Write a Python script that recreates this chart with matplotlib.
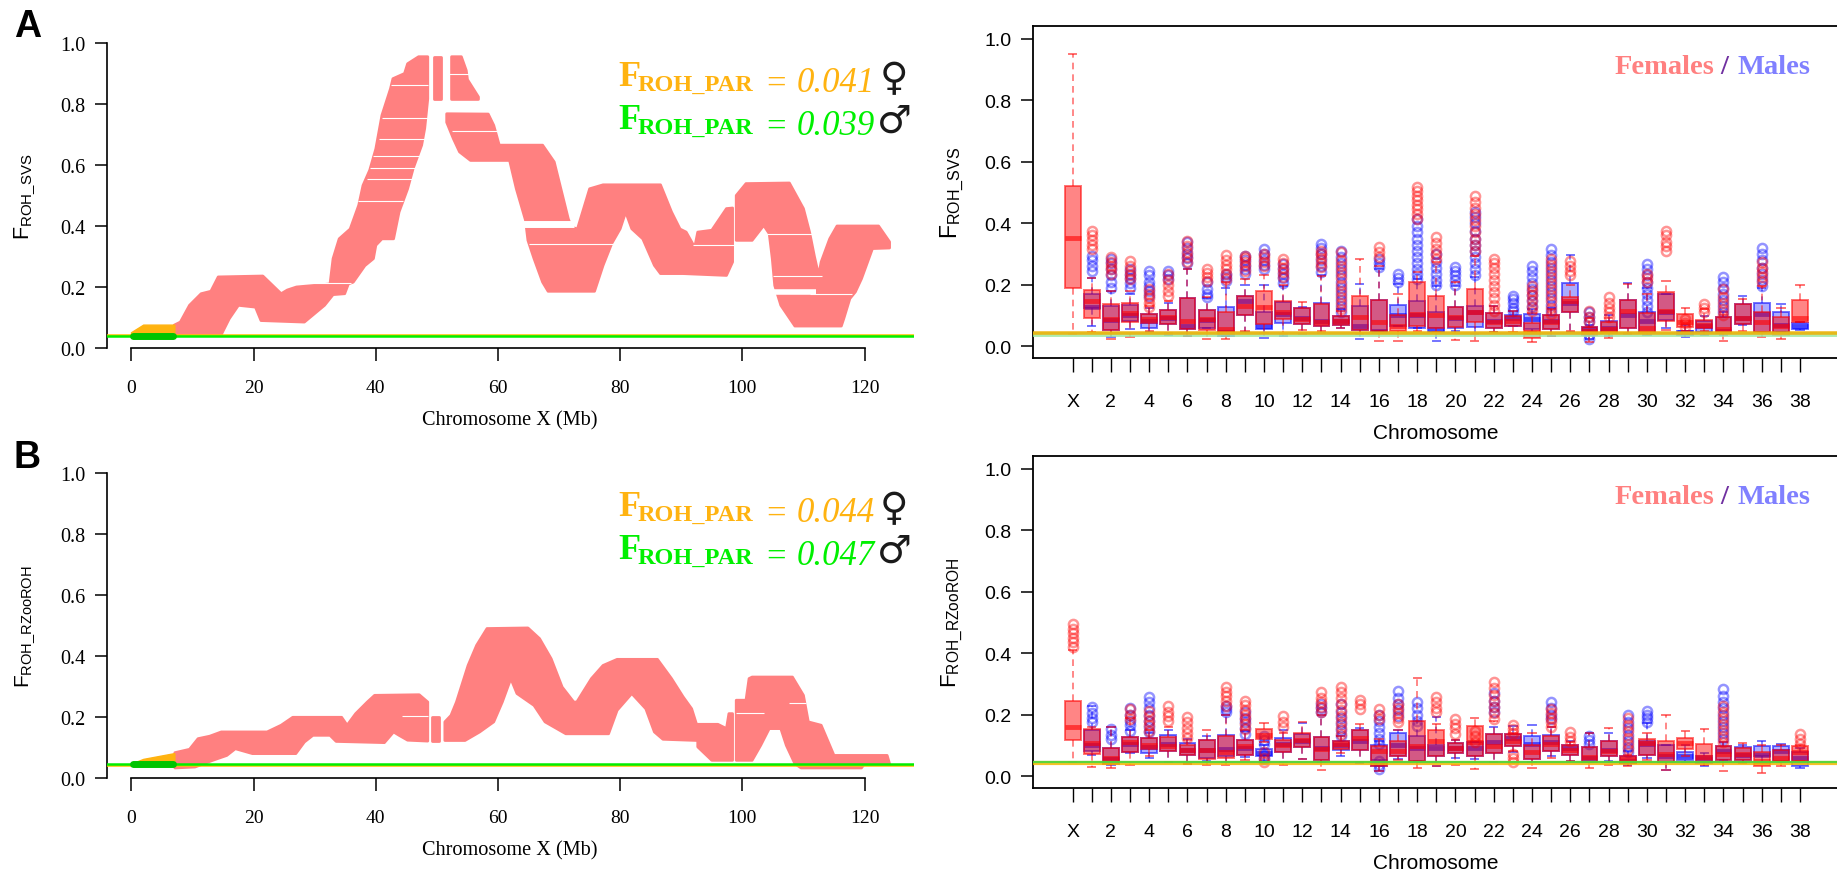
import matplotlib
matplotlib.use('Agg')
import matplotlib.pyplot as plt
import numpy as np

W, H = 1837, 879
PINK = '#FF8080'
SERIF = 'Liberation Serif'
SANS = 'Liberation Sans'
plt.rcParams['mathtext.fontset'] = 'custom'
plt.rcParams['mathtext.rm'] = SANS

nan = np.nan

# ---- left panels: silhouettes of the FROH band (Mb, top / bottom edge)
A_seg1_tx = [7, 8, 9.5, 11.4, 13, 14.2, 21.5, 24.5, 25.5, 27, 32.5, 33, 34, 35.8, 37.2, 37.9, 39, 40, 41, 42.4, 42.8, 44.7, 45.2, 47, 48.5]
A_seg1_ty = [.075, .085, .14, .178, .186, .233, .236, .178, .19, .2, .21, .293, .358, .39, .468, .533, .583, .653, .763, .85, .883, .9, .932, .955, .955]
A_seg1_bx = [7, 14.7, 16, 17.5, 20.3, 21.2, 28.3, 31.6, 33, 34.9, 35.5, 36.3, 38.2, 39.6, 40, 41, 42.9, 43.8, 45.2, 46.1, 47.5, 48, 48.5]
A_seg1_by = [.04, .044, .096, .14, .134, .09, .085, .14, .175, .178, .21, .216, .27, .293, .337, .358, .358, .446, .522, .588, .665, .72, .817]
A_seg2_tx = [49.6, 50.6]
A_seg2_ty = [.955, .955]
A_seg2_bx = [49.6, 50.6]
A_seg2_by = [.815, .815]
A_seg3_tx = [52.4, 54, 54.8, 55, 56.8]
A_seg3_ty = [.955, .955, .91, .88, .823]
A_seg3_bx = [52.4, 56.8]
A_seg3_by = [.815, .815]
A_seg4_tx = [51.6, 58.4, 59.3, 60.2, 67.3, 69.2, 71.5, 72, 73, 75, 77.2, 86.6, 88.4, 89.8, 90.8, 92.2, 92.7, 95, 97.4, 98.4]
A_seg4_ty = [.768, .767, .73, .665, .665, .61, .424, .397, .39, .522, .535, .535, .446, .39, .38, .33, .38, .386, .457, .459]
A_seg4_bx = [51.6, 52.7, 53.7, 55.5, 61.9, 63, 64.5, 64.9, 65.9, 67.3, 68.2, 75.8, 77.2, 78.6, 80, 80.9, 81.9, 83.7, 85.6, 86.6, 90.3, 97.4, 98.4]
A_seg4_by = [.74, .686, .643, .615, .615, .522, .419, .353, .293, .216, .186, .186, .271, .342, .391, .446, .391, .358, .271, .244, .244, .238, .282]
A_seg5_tx = [99, 100.6, 107.7, 110, 111, 111.8, 112.5, 112.9, 114.3, 115.5, 122.3, 124.1]
A_seg5_ty = [.5, .539, .541, .457, .38, .3, .238, .282, .358, .4, .4, .348]
A_seg5_bx = [99, 101.6, 103.5, 104.4, 104.9, 105.3, 106.3, 108.6, 116.2, 116.6, 117.6, 118.5, 119.5, 120.9, 121.3, 124.1]
A_seg5_by = [.353, .353, .402, .375, .293, .205, .14, .072, .072, .096, .162, .184, .227, .304, .326, .328]

# white stripes across the band: value, from Mb, to Mb, thickness in pt
A_gap_y = [.863, .755, .686, .628, .59, .553, .481, .214, .897, .711, .408, .342, .338, .375, .236, .185, .178]
A_gap_x0 = [42.5, 41, 40.5, 39.5, 39, 38.5, 37, 28.5, 52, 52.5, 63.5, 65, 92, 104, 105, 105, 111]
A_gap_x1 = [48.6, 48.6, 48, 47.5, 46.8, 46, 44.5, 36, 55.5, 60, 72.5, 79, 98.6, 111.5, 113, 112, 118]
A_gap_w = [.8, .8, .8, .8, .8, .8, .8, .8, .8, .8, 5, .8, .8, .8, .8, 4, .8]

B_seg1_tx = [7.1, 9.5, 10.9, 12.8, 14.7, 22.2, 24.5, 26.4, 34.4, 35.3, 36.7, 38.6, 39.8, 47.1, 48.5, 48.5]
B_seg1_ty = [.083, .094, .129, .137, .151, .151, .173, .199, .199, .173, .211, .249, .271, .273, .249, .123]
B_seg1_bx = [7.1, 10.4, 13.3, 15.6, 17, 19.8, 26.9, 28.3, 29.7, 32.5, 33.5, 41.4, 42.9, 43.8, 45.2, 48.5]
B_seg1_by = [.033, .036, .058, .074, .096, .08, .08, .118, .14, .14, .12, .116, .151, .14, .124, .121]
B_seg2_tx = [49.2, 50.4]
B_seg2_ty = [.2, .2]
B_seg2_bx = [49.2, 50.4]
B_seg2_by = [.12, .12]
B_seg3_tx = [51.3, 52.3, 53.2, 55.1, 56.5, 58.2, 64.9, 66.8, 68.7, 70.5, 72.4, 72.9, 75.3, 77.2, 79.5, 86.1, 88.4, 90.3, 91.7, 92.5, 96, 97.4, 97.8, 98.4]
B_seg3_ty = [.184, .205, .249, .369, .435, .49, .492, .457, .391, .298, .249, .249, .326, .369, .389, .389, .326, .266, .227, .176, .176, .162, .211, .211]
B_seg3_bx = [51.3, 54.6, 57, 59.3, 60.7, 62.1, 63.1, 65.9, 67.7, 71.1, 78.1, 79.5, 81.9, 84.2, 85.6, 87, 92.7, 92.7, 95, 98.4]
B_seg3_by = [.123, .123, .151, .184, .249, .326, .277, .238, .184, .145, .145, .222, .277, .227, .151, .127, .123, .102, .058, .058]
B_seg4_tx = [99, 100.6, 101.1, 101.6, 108.2, 110, 110.8, 112.9, 114.3, 115, 123.7, 124.1]
B_seg4_ty = [.255, .255, .326, .331, .331, .271, .184, .173, .107, .074, .074, .047]
B_seg4_bx = [99, 101.6, 103, 104.4, 106.3, 107.2, 108.6, 109.6, 119.5, 120, 124.1]
B_seg4_by = [.058, .058, .107, .162, .162, .107, .047, .033, .033, .047, .047]

B_gap_y = [.203, .213, .245]
B_gap_x0 = [44.3, 99, 107.7]
B_gap_x1 = [48.6, 103.5, 110.5]
B_gap_w = [.8, .8, .8]

# PAR region patches (Mb, FROH)
A_par_x = [0, 2, 7.1]
A_par_top = [.05, .075, .075]
B_par_x = [0, 2, 7.1]
B_par_top = [.045, .061, .08]
par_end = 7.1

A_left_f, A_left_m = 0.041, 0.039
B_left_f, B_left_m = 0.044, 0.047

# ---- right panels: box statistics per chromosome, X first then 1..38
chrom_labels = ['X', '', '2', '', '4', '', '6', '', '8', '', '10', '', '12', '', '14', '', '16', '', '18', '', '20', '', '22', '', '24', '', '26', '', '28', '', '30', '', '32', '', '34', '', '36', '', '38']

A_F_q1 = [.188, .091, .053, .077, .075, .072, .055, .052, .039, .102, .072, .088, .072, .066, .068, .053, .05, .05, .066, .06, .063, .077, .058, .066, .026, .055, .112, .036, .041, .06, .045, .083, .063, .059, .042, .072, .045, .037, .077]
A_F_q3 = [.52, .183, .136, .139, .104, .117, .155, .118, .11, .162, .18, .145, .123, .137, .097, .164, .151, .1, .207, .162, .128, .186, .106, .099, .075, .1, .16, .063, .077, .15, .106, .175, .104, .086, .093, .137, .11, .093, .151]
A_F_med = [.353, .147, .088, .107, .088, .093, .083, .088, .055, .131, .126, .11, .088, .077, .083, .093, .079, .066, .104, .10, .093, .112, .077, .083, .045, .077, .148, .05, .055, .115, .06, .113, .077, .07, .055, .09, .077, .066, .09]
A_F_lo = [.039, .046, .023, .03, .05, .042, .034, .023, .023, .05, .042, .039, .053, .05, .06, .039, .015, .017, .05, .045, .02, .017, .045, .045, .012, .034, .05, .012, .026, .042, .039, .052, .05, .05, .015, .048, .028, .023, .077]
A_F_hi = [.95, .22, .18, .18, .13, .145, .25, .16, .21, .218, .23, .2, .144, .229, .115, .283, .262, .17, .24, .272, .207, .294, .13, .115, .106, .12, .2, .09, .09, .202, .17, .213, .123, .12, .1, .153, .197, .125, .199]
A_F_out = [[], [.316, .33, .345, .36, .376], [.235, .25, .262, .275, .289], [.218, .23, .245, .26, .278], [.126, .14, .155, .17, .186],
           [.164, .18, .2, .215, .235], [.273, .29, .305, .325, .343], [.213, .225, .238, .25], [.218, .235, .25, .265, .28, .296], [.245, .26, .275, .285, .294],
           [.262, .275, .29, .3], [.224, .24, .255, .27, .283], [], [.256, .27, .285, .3, .31], [.12, .14, .16, .18, .2, .22, .24, .26, .28, .305],
           [], [.289, .305, .321], [], [.413, .43, .445, .46, .475, .49, .505, .517], [.283, .3, .315, .335, .354],
           [], [.31, .33, .35, .37, .39, .41, .43, .45, .47, .49], [.115, .135, .155, .175, .195, .215, .235, .255, .27, .283], [], [.115, .13, .15, .165, .18, .197],
           [.105, .125, .145, .165, .185, .205, .225, .245, .265, .283], [.23, .245, .26, .278], [.077, .095, .115], [.093, .11, .125, .14, .158], [],
           [.207, .22, .235], [.31, .325, .34, .36, .376], [.061, .075, .088], [.11, .125, .137], [.1, .12, .14, .16, .186],
           [], [.207, .225, .24, .255, .273], [], []]

A_M_q1 = [nan, .125, .052, .08, .059, .072, .055, .06, .034, .102, .055, .074, .072, .066, .068, .053, .05, .066, .06, .047, .06, .063, .058, .066, .055, .055, .112, .038, .041, .06, .042, .085, .037, .047, .042, .072, .047, .045, .055]
A_M_q3 = [nan, .17, .13, .135, .104, .117, .155, .118, .128, .164, .11, .142, .123, .14, .097, .13, .15, .134, .145, .11, .128, .13, .106, .102, .105, .102, .205, .063, .083, .15, .11, .17, .05, .08, .093, .137, .14, .112, .074]
A_M_med = [nan, .126, .086, .10, .083, .09, .065, .085, .045, .148, .065, .104, .09, .083, .083, .066, .05, .10, .10, .055, .09, .11, .082, .09, .087, .082, .14, .055, .06, .10, .08, .11, .045, .065, .05, .09, .104, .07, .065]
A_M_lo = [nan, .066, .028, .055, .045, .036, .034, .06, .034, .045, .026, .034, .039, .042, .058, .023, .05, .066, .06, .017, .05, .039, .045, .065, .045, .034, .047, .023, .034, .039, .037, .06, .031, .036, .036, .07, .045, .045, .052]
A_M_hi = [nan, .22, .18, .17, .125, .14, .25, .155, .19, .2, .2, .195, .126, .23, .12, .202, .25, .202, .218, .197, .197, .225, .13, .115, .12, .125, .296, .07, .1, .205, .19, .17, .07, .099, .11, .164, .19, .137, .078]
A_M_out = [[], [.245, .26, .28, .294], [.19, .21, .23, .25, .27, .283], [.19, .205, .22, .235, .25], [.164, .18, .195, .21, .23, .245],
           [.218, .23, .245], [.27, .285, .3, .32, .338], [.158, .17, .185, .207], [.213, .225, .235], [.235, .25, .265, .28, .294],
           [.25, .265, .28, .3, .316], [.205, .22, .235, .25, .267], [], [.24, .26, .28, .3, .32, .332], [.11, .13, .15, .17, .19, .21, .23, .25, .27, .29, .31],
           [], [.256, .27, .283], [.207, .22, .235], [.218, .235, .25, .27, .29, .31, .33, .35, .37, .39, .413], [.2, .215, .235, .255, .275, .3],
           [.2, .215, .23, .245, .256], [.23, .25, .27, .29, .31, .33, .35, .375, .4, .42, .435], [], [.115, .125, .14, .152, .164], [.126, .145, .165, .185, .205, .225, .245, .262],
           [.115, .135, .155, .175, .195, .215, .235, .255, .275, .295, .316], [], [.023, .035, .08, .095, .11], [], [],
           [.11, .13, .15, .17, .19, .21, .23, .25, .267], [], [], [], [.11, .13, .15, .17, .19, .21, .224],
           [], [.197, .215, .235, .255, .28, .3, .32], [], []]

B_F_q1 = [.117, .072, .039, .077, .088, .08, .068, .055, .059, .07, .12, .077, .093, .053, .088, .086, .034, .064, .048, .064, .074, .066, .074, .099, .055, .083, .068, .045, .064, .042, .068, .045, .088, .045, .051, .051, .034, .05, .05]
B_F_q3 = [.243, .153, .09, .126, .123, .126, .10, .118, .131, .118, .153, .118, .139, .126, .115, .15, .099, .115, .178, .15, .107, .164, .137, .137, .1, .131, .10, .096, .115, .064, .12, .113, .123, .104, .097, .09, .077, .085, .097]
B_F_med = [.161, .107, .059, .11, .10, .097, .085, .085, .077, .097, .135, .1, .117, .088, .104, .123, .082, .082, .097, .115, .09, .11, .099, .115, .079, .104, .086, .061, .08, .055, .107, .072, .106, .061, .072, .072, .05, .059, .077]
B_F_lo = [.045, .03, .026, .037, .066, .047, .039, .037, .037, .053, .11, .037, .055, .02, .074, .045, .017, .052, .026, .034, .036, .023, .045, .08, .026, .06, .05, .025, .037, .034, .052, .02, .066, .037, .017, .042, .009, .034, .05]
B_F_hi = [.41, .16, .159, .188, .15, .16, .118, .151, .2, .15, .173, .14, .177, .2, .13, .17, .12, .15, .319, .17, .118, .19, .18, .14, .14, .16, .11, .14, .156, .07, .14, .199, .145, .153, .11, .107, .1, .1, .1]
B_F_out = [[.419, .435, .45, .465, .48, .495], [], [], [.186, .2, .218], [.148, .165, .18, .195, .213],
           [.18, .195, .21, .229], [.123, .14, .155, .175, .191], [], [.229, .245, .26, .275, .289], [.153, .17, .185, .2, .215, .23, .245],
           [.045, .06, .077], [.159, .175, .194], [], [.207, .225, .24, .255, .273], [.137, .155, .175, .195, .215, .235, .255, .275, .289],
           [.218, .233, .248], [.186, .2, .218], [.175, .19, .205, .22, .235], [], [.207, .22, .24, .256],
           [.137, .155, .17, .186], [.11, .13, .148], [.186, .205, .225, .245, .265, .285, .305], [.045, .058, .072, .14, .153, .166], [],
           [.159, .175, .19, .205, .218], [.115, .128, .142], [], [], [.088, .105, .125, .145, .165, .19],
           [], [], [], [], [.11, .13, .15, .17, .19, .21, .229],
           [], [], [], [.104, .12, .137]]

B_M_q1 = [nan, .08, .039, .077, .075, .08, .068, .06, .066, .07, .066, .077, .093, .053, .085, .085, .034, .064, .05, .064, .074, .066, .074, .097, .055, .083, .068, .045, .064, .042, .07, .045, .053, .042, .051, .051, .064, .05, .034]
B_M_q3 = [nan, .15, .09, .126, .123, .134, .107, .118, .135, .118, .088, .123, .137, .128, .115, .15, .1, .139, .13, .10, .107, .11, .137, .137, .129, .134, .102, .096, .115, .064, .115, .1, .077, .066, .097, .094, .097, .097, .079]
B_M_med = [nan, .10, .055, .105, .095, .105, .085, .085, .088, .09, .075, .105, .115, .09, .1, .115, .05, .1, .09, .09, .09, .09, .11, .125, .105, .11, .09, .06, .085, .05, .105, .065, .065, .055, .08, .07, .07, .08, .06]
B_M_lo = [nan, .07, .037, .074, .058, .047, .039, .05, .045, .063, .05, .045, .055, .045, .064, .042, .017, .055, .05, .034, .06, .055, .045, .077, .045, .064, .05, .045, .05, .037, .06, .02, .047, .034, .051, .045, .045, .045, .025]
B_M_hi = [nan, .227, .159, .15, .14, .15, .12, .13, .2, .145, .1, .15, .173, .2, .13, .155, .115, .15, .18, .191, .118, .11, .16, .164, .166, .16, .115, .14, .14, .08, .173, .1, .1, .075, .11, .1, .115, .104, .09]
B_M_out = [[], [.175, .19, .205, .224], [.12, .135, .153], [.148, .165, .18, .2, .22], [.142, .16, .18, .2, .22, .24, .256],
           [], [], [], [.207, .218, .229], [.137, .155, .175, .19, .207],
           [.056, .07, .104, .118, .131], [], [], [.207, .22, .235], [.131, .15, .17, .19, .21, .235],
           [], [.023, .037, .05, .104, .12, .14, .16, .18, .2], [.197, .215, .235, .255, .278], [.164, .18, .2, .22, .24], [],
           [], [], [.207, .225, .245, .27], [], [],
           [.186, .2, .22, .24], [], [.104, .118, .131], [], [.077, .095, .115, .135, .155, .175, .2],
           [.175, .19, .2, .213], [], [], [], [.12, .14, .16, .18, .2, .22, .24, .26, .283],
           [], [], [], []]

fig = plt.figure(figsize=(W / 100, H / 100), dpi=100)


def px_axes(l, t, r, b):
    return fig.add_axes([l / W, 1 - b / H, (r - l) / W, (b - t) / H])


def ftext(x, y, s, **kw):
    return fig.text(x / W, 1 - y / H, s, **kw)


def draw_band(ax, tx, ty, bx, by):
    xs = list(tx) + list(bx)[::-1]
    ys = list(ty) + list(by)[::-1]
    ax.fill(xs, ys, color=PINK, lw=2, joinstyle='round', zorder=2)


def left_panel(t, b, segs, gap_y, gap_x0, gap_x1, gap_w, par_x, par_top, f_val, m_val, ylab, ylab_y, ylab_size):
    ax = px_axes(107, t, 914, b)
    ax.set_xlim(-4.01, 128.1)
    ax.set_ylim(0, 1)
    ax.fill(par_x + [par_end, 0], par_top + [f_val, f_val], color='#FFB310', zorder=3)
    for s in segs:
        draw_band(ax, *s)
    for y, x0, x1, w in zip(gap_y, gap_x0, gap_x1, gap_w):
        ax.hlines(y, x0, x1, color='white', lw=w, zorder=4)
    ax.axhline(f_val, color='#FFC000', lw=1.8, zorder=5)
    ax.axhline(m_val, color='#00F000', lw=1.8, zorder=6)
    ax.plot([0.3, par_end - 0.3], [m_val, m_val], color='#00C400', lw=5, solid_capstyle='round', zorder=7)
    for s in ['top', 'right']:
        ax.spines[s].set_visible(False)
    ax.spines['left'].set_linewidth(1.2)
    ax.spines['bottom'].set_linewidth(1.2)
    ax.spines['bottom'].set_bounds(0, 120)
    ax.set_xticks(np.arange(0, 121, 20))
    ax.set_yticks(np.arange(0, 1.01, .2))
    ax.tick_params(axis='x', length=9.5, width=1.1, pad=13, labelsize=14)
    ax.tick_params(axis='y', length=8.6, width=1.1, pad=7, labelsize=14.5)
    for lab in ax.get_xticklabels() + ax.get_yticklabels():
        lab.set_fontfamily(SERIF)
    ftext(510, b + 72, 'Chromosome X (Mb)', family=SERIF, fontsize=14.6, ha='center', va='center')
    ftext(25, ylab_y, ylab, fontsize=ylab_size, rotation=90, ha='center', va='center')
    return ax


def box_stats(q1, med, q3, lo, hi, out):
    stats, pos = [], []
    for i in range(len(q1)):
        if np.isnan(q1[i]):
            continue
        stats.append(dict(q1=q1[i], med=med[i], q3=q3[i], whislo=lo[i], whishi=hi[i], fliers=out[i]))
        pos.append(i)
    return stats, pos


def draw_boxes(ax, stats, pos, col, fill_a, z):
    to_rgba = matplotlib.colors.to_rgba
    edge = to_rgba(col, .55)
    ax.bxp(stats, positions=pos, widths=.83, patch_artist=True, manage_ticks=False, zorder=z,
           boxprops=dict(facecolor=to_rgba(col, fill_a), edgecolor=edge, linewidth=1.4),
           medianprops=dict(color=to_rgba(col, .6), linewidth=3.5, solid_capstyle='butt'),
           whiskerprops=dict(color=edge, linewidth=1.2, linestyle=(0, (4, 3))),
           capprops=dict(color=edge, linewidth=1.4),
           capwidths=.38,
           flierprops=dict(marker='o', markerfacecolor='none', markeredgecolor=to_rgba(col, .42),
                           markersize=6.6, markeredgewidth=1.8))


def right_panel(t, b, male, female, ylab, ylab_y, ylab_size, par_lines):
    ax = px_axes(1033, t, 1837, b)
    ax.set_xlim(-2.07, 39.93)
    ax.set_ylim(-.039, 1.042)
    draw_boxes(ax, *box_stats(*male), '#0000FF', .33, 3)
    draw_boxes(ax, *box_stats(*female), '#FF0000', .48, 4)
    # PAR reference lines, the later one on top
    for val, col, lw in par_lines:
        ax.axhline(val, color=col, lw=lw, alpha=.85, zorder=5)
    ax.spines['right'].set_visible(False)
    for s in ['left', 'top', 'bottom']:
        ax.spines[s].set_linewidth(1.3)
    ax.set_xticks(range(len(chrom_labels)))
    ax.set_xticklabels(chrom_labels)
    ax.set_yticks(np.arange(0, 1.01, .2))
    ax.tick_params(axis='x', length=10, width=1.0, pad=15, labelsize=14)
    ax.tick_params(axis='y', length=8.6, width=1.1, pad=7, labelsize=14)
    for lab in ax.get_xticklabels() + ax.get_yticklabels():
        lab.set_fontfamily(SANS)
    ftext(1436, b + 75, 'Chromosome', family=SANS, fontsize=15, ha='center', va='center')
    ftext(952, ylab_y, ylab, fontsize=ylab_size, rotation=90, ha='center', va='center')
    fy = t + 40
    ftext(1615, fy, 'Females', family=SERIF, weight='bold', fontsize=20.5, color=PINK, va='center')
    ftext(1724, fy, '/', family=SERIF, weight='bold', fontsize=20.5, color='#7030A0', va='center', ha='center')
    ftext(1737, fy, 'Males', family=SERIF, weight='bold', fontsize=20.5, color='#8080FF', va='center')
    return ax


def par_label(base, val, col, sym):
    ftext(618, base, 'F', family=SERIF, weight='bold', fontsize=26, color=col, va='baseline')
    ftext(638, base + 5, 'ROH_PAR', family=SERIF, weight='bold', fontsize=17.5, color=col, va='baseline')
    ftext(766, base + 8, '=', family=SERIF, fontsize=25, color=col, va='baseline')
    ftext(797, base + 6, val, family=SERIF, style='italic', fontsize=25, color=col, va='baseline')
    ftext(894, base - 7, sym, family='DejaVu Sans', weight='bold', fontsize=28, color='#1A1A1A', ha='center', va='center')


left_panel(44, 349,
           [(A_seg1_tx, A_seg1_ty, A_seg1_bx, A_seg1_by), (A_seg2_tx, A_seg2_ty, A_seg2_bx, A_seg2_by),
            (A_seg3_tx, A_seg3_ty, A_seg3_bx, A_seg3_by), (A_seg4_tx, A_seg4_ty, A_seg4_bx, A_seg4_by),
            (A_seg5_tx, A_seg5_ty, A_seg5_bx, A_seg5_by)],
           A_gap_y, A_gap_x0, A_gap_x1, A_gap_w, A_par_x, A_par_top, A_left_f, A_left_m,
           r'$\mathrm{F_{ROH\_SVS}}$', 197, 15.5)
left_panel(474, 779,
           [(B_seg1_tx, B_seg1_ty, B_seg1_bx, B_seg1_by), (B_seg2_tx, B_seg2_ty, B_seg2_bx, B_seg2_by),
            (B_seg3_tx, B_seg3_ty, B_seg3_bx, B_seg3_by), (B_seg4_tx, B_seg4_ty, B_seg4_bx, B_seg4_by)],
           B_gap_y, B_gap_x0, B_gap_x1, B_gap_w, B_par_x, B_par_top, B_left_f, B_left_m,
           r'$\mathrm{F_{ROH\_RZooROH}}$', 627, 15)

right_panel(27, 359, (A_M_q1, A_M_med, A_M_q3, A_M_lo, A_M_hi, A_M_out),
            (A_F_q1, A_F_med, A_F_q3, A_F_lo, A_F_hi, A_F_out),
            r'$\mathrm{F_{ROH\_SVS}}$', 193, 16.5, [(A_left_m, '#A0E8A0', 3.5), (A_left_f, '#F0B000', 2.6)])
right_panel(457, 789, (B_M_q1, B_M_med, B_M_q3, B_M_lo, B_M_hi, B_M_out),
            (B_F_q1, B_F_med, B_F_q3, B_F_lo, B_F_hi, B_F_out),
            r'$\mathrm{F_{ROH\_RZooROH}}$', 623, 16, [(B_left_f, '#F5B800', 3), (B_left_m, '#40D840', 1.6)])

par_label(86, '0.041', '#FFB310', '\u2640')
par_label(129, '0.039', '#00F000', '\u2642')
par_label(516, '0.044', '#FFB310', '\u2640')
par_label(559, '0.047', '#00F000', '\u2642')

ftext(14, 37, 'A', family=SANS, weight='bold', fontsize=27, va='baseline')
ftext(14, 468, 'B', family=SANS, weight='bold', fontsize=27, va='baseline')

plt.savefig('out.png', dpi=100)
plt.close()
